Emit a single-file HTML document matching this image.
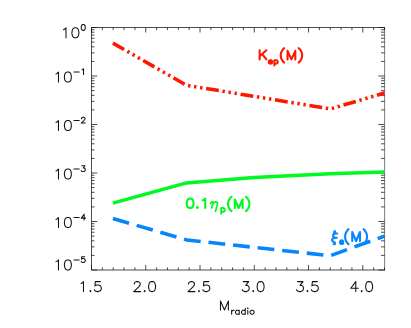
<!DOCTYPE html>
<html><head><meta charset="utf-8"><title>plot</title>
<style>
html,body{margin:0;padding:0;background:#fff;font-family:"Liberation Sans",sans-serif;}
svg{display:block}
</style></head><body>
<svg width="411" height="328" viewBox="0 0 411 328">
<rect width="411" height="328" fill="#ffffff"/>
<path d="M384.6 27.12 V270.38" fill="none" stroke="#111111" stroke-width="0.55"/>
<path d="M384.9 27.5 H91.5 M384.9 270 H91.5 V27.12 H91.5 M91.5 270 v-5 M91.5 27.5 v5 M102.35 270 v-2.6 M102.35 27.5 v2.6 M113.2 270 v-2.6 M113.2 27.5 v2.6 M124.06 270 v-2.6 M124.06 27.5 v2.6 M134.91 270 v-2.6 M134.91 27.5 v2.6 M145.76 270 v-5 M145.76 27.5 v5 M156.61 270 v-2.6 M156.61 27.5 v2.6 M167.46 270 v-2.6 M167.46 27.5 v2.6 M178.31 270 v-2.6 M178.31 27.5 v2.6 M189.17 270 v-2.6 M189.17 27.5 v2.6 M200.02 270 v-5 M200.02 27.5 v5 M210.87 270 v-2.6 M210.87 27.5 v2.6 M221.72 270 v-2.6 M221.72 27.5 v2.6 M232.57 270 v-2.6 M232.57 27.5 v2.6 M243.43 270 v-2.6 M243.43 27.5 v2.6 M254.28 270 v-5 M254.28 27.5 v5 M265.13 270 v-2.6 M265.13 27.5 v2.6 M275.98 270 v-2.6 M275.98 27.5 v2.6 M286.83 270 v-2.6 M286.83 27.5 v2.6 M297.69 270 v-2.6 M297.69 27.5 v2.6 M308.54 270 v-5 M308.54 27.5 v5 M319.39 270 v-2.6 M319.39 27.5 v2.6 M330.24 270 v-2.6 M330.24 27.5 v2.6 M341.09 270 v-2.6 M341.09 27.5 v2.6 M351.94 270 v-2.6 M351.94 27.5 v2.6 M362.8 270 v-5 M362.8 27.5 v5 M373.65 270 v-2.6 M373.65 27.5 v2.6 M384.5 270 v-2.6 M384.5 27.5 v2.6 M91.5 27.5 h5.8 M384.6 27.5 h-6.2 M91.5 61.4 h3 M384.6 61.4 h-3.6 M91.5 52.86 h3 M384.6 52.86 h-3.6 M91.5 46.8 h3 M384.6 46.8 h-3.6 M91.5 42.1 h3 M384.6 42.1 h-3.6 M91.5 38.26 h3 M384.6 38.26 h-3.6 M91.5 35.01 h3 M384.6 35.01 h-3.6 M91.5 32.2 h3 M384.6 32.2 h-3.6 M91.5 29.72 h3 M384.6 29.72 h-3.6 M91.5 76 h5.8 M384.6 76 h-6.2 M91.5 109.9 h3 M384.6 109.9 h-3.6 M91.5 101.36 h3 M384.6 101.36 h-3.6 M91.5 95.3 h3 M384.6 95.3 h-3.6 M91.5 90.6 h3 M384.6 90.6 h-3.6 M91.5 86.76 h3 M384.6 86.76 h-3.6 M91.5 83.51 h3 M384.6 83.51 h-3.6 M91.5 80.7 h3 M384.6 80.7 h-3.6 M91.5 78.22 h3 M384.6 78.22 h-3.6 M91.5 124.5 h5.8 M384.6 124.5 h-6.2 M91.5 158.4 h3 M384.6 158.4 h-3.6 M91.5 149.86 h3 M384.6 149.86 h-3.6 M91.5 143.8 h3 M384.6 143.8 h-3.6 M91.5 139.1 h3 M384.6 139.1 h-3.6 M91.5 135.26 h3 M384.6 135.26 h-3.6 M91.5 132.01 h3 M384.6 132.01 h-3.6 M91.5 129.2 h3 M384.6 129.2 h-3.6 M91.5 126.72 h3 M384.6 126.72 h-3.6 M91.5 173 h5.8 M384.6 173 h-6.2 M91.5 206.9 h3 M384.6 206.9 h-3.6 M91.5 198.36 h3 M384.6 198.36 h-3.6 M91.5 192.3 h3 M384.6 192.3 h-3.6 M91.5 187.6 h3 M384.6 187.6 h-3.6 M91.5 183.76 h3 M384.6 183.76 h-3.6 M91.5 180.51 h3 M384.6 180.51 h-3.6 M91.5 177.7 h3 M384.6 177.7 h-3.6 M91.5 175.22 h3 M384.6 175.22 h-3.6 M91.5 221.5 h5.8 M384.6 221.5 h-6.2 M91.5 255.4 h3 M384.6 255.4 h-3.6 M91.5 246.86 h3 M384.6 246.86 h-3.6 M91.5 240.8 h3 M384.6 240.8 h-3.6 M91.5 236.1 h3 M384.6 236.1 h-3.6 M91.5 232.26 h3 M384.6 232.26 h-3.6 M91.5 229.01 h3 M384.6 229.01 h-3.6 M91.5 226.2 h3 M384.6 226.2 h-3.6 M91.5 223.72 h3 M384.6 223.72 h-3.6 M91.5 270 h5.8 M384.6 270 h-6.2" fill="none" stroke="#111111" stroke-width="0.75"/>
<path d="M81 283.52 L81.98 283.05 L83.47 281.62 L83.47 291.6 M90.4 290.65 L89.91 291.12 L90.4 291.6 L90.9 291.12 L90.4 290.65 M100.3 281.62 L95.35 281.62 L94.86 285.9 L95.35 285.42 L96.84 284.95 L98.32 284.95 L99.81 285.42 L100.8 286.37 L101.29 287.8 L101.29 288.75 L100.8 290.17 L99.81 291.12 L98.32 291.6 L96.84 291.6 L95.35 291.12 L94.86 290.65 L94.36 289.7 M134.26 284 L134.26 283.52 L134.76 282.57 L135.25 282.1 L136.24 281.62 L138.22 281.62 L139.21 282.1 L139.71 282.57 L140.2 283.52 L140.2 284.47 L139.71 285.42 L138.72 286.85 L133.77 291.6 L140.7 291.6 M144.66 290.65 L144.16 291.12 L144.66 291.6 L145.15 291.12 L144.66 290.65 M151.59 281.62 L150.1 282.1 L149.11 283.52 L148.62 285.9 L148.62 287.32 L149.11 289.7 L150.1 291.12 L151.59 291.6 L152.58 291.6 L154.06 291.12 L155.05 289.7 L155.55 287.32 L155.55 285.9 L155.05 283.52 L154.06 282.1 L152.58 281.62 L151.59 281.62 M188.52 284 L188.52 283.52 L189.02 282.57 L189.51 282.1 L190.5 281.62 L192.48 281.62 L193.47 282.1 L193.97 282.57 L194.46 283.52 L194.46 284.47 L193.97 285.42 L192.98 286.85 L188.03 291.6 L194.96 291.6 M198.92 290.65 L198.42 291.12 L198.92 291.6 L199.41 291.12 L198.92 290.65 M208.82 281.62 L203.87 281.62 L203.37 285.9 L203.87 285.42 L205.35 284.95 L206.84 284.95 L208.32 285.42 L209.31 286.37 L209.81 287.8 L209.81 288.75 L209.31 290.17 L208.32 291.12 L206.84 291.6 L205.35 291.6 L203.87 291.12 L203.37 290.65 L202.88 289.7 M243.28 281.62 L248.72 281.62 L245.75 285.42 L247.24 285.42 L248.23 285.9 L248.72 286.37 L249.22 287.8 L249.22 288.75 L248.72 290.17 L247.73 291.12 L246.25 291.6 L244.76 291.6 L243.28 291.12 L242.78 290.65 L242.29 289.7 M253.18 290.65 L252.68 291.12 L253.18 291.6 L253.67 291.12 L253.18 290.65 M260.11 281.62 L258.62 282.1 L257.63 283.52 L257.14 285.9 L257.14 287.32 L257.63 289.7 L258.62 291.12 L260.11 291.6 L261.1 291.6 L262.58 291.12 L263.57 289.7 L264.07 287.32 L264.07 285.9 L263.57 283.52 L262.58 282.1 L261.1 281.62 L260.11 281.62 M297.54 281.62 L302.98 281.62 L300.01 285.42 L301.5 285.42 L302.49 285.9 L302.98 286.37 L303.48 287.8 L303.48 288.75 L302.98 290.17 L301.99 291.12 L300.51 291.6 L299.02 291.6 L297.54 291.12 L297.04 290.65 L296.55 289.7 M307.44 290.65 L306.94 291.12 L307.44 291.6 L307.93 291.12 L307.44 290.65 M317.34 281.62 L312.39 281.62 L311.89 285.9 L312.39 285.42 L313.87 284.95 L315.36 284.95 L316.84 285.42 L317.83 286.37 L318.33 287.8 L318.33 288.75 L317.83 290.17 L316.84 291.12 L315.36 291.6 L313.87 291.6 L312.39 291.12 L311.89 290.65 L311.4 289.7 M355.76 281.62 L350.81 288.27 L358.23 288.27 M355.76 281.62 L355.76 291.6 M361.7 290.65 L361.2 291.12 L361.7 291.6 L362.19 291.12 L361.7 290.65 M368.63 281.62 L367.14 282.1 L366.15 283.52 L365.66 285.9 L365.66 287.32 L366.15 289.7 L367.14 291.12 L368.63 291.6 L369.62 291.6 L371.1 291.12 L372.09 289.7 L372.59 287.32 L372.59 285.9 L372.09 283.52 L371.1 282.1 L369.62 281.62 L368.63 281.62 M63.53 29.72 L64.52 29.25 L66 27.82 L66 37.8 M74.91 27.82 L73.43 28.3 L72.44 29.72 L71.94 32.1 L71.94 33.52 L72.44 35.9 L73.43 37.32 L74.91 37.8 L75.9 37.8 L77.39 37.32 L78.38 35.9 L78.87 33.52 L78.87 32.1 L78.38 29.72 L77.39 28.3 L75.9 27.82 L74.91 27.82 M82.96 24.55 L82.1 24.83 L81.52 25.66 L81.23 27.05 L81.23 27.88 L81.52 29.27 L82.1 30.11 L82.96 30.39 L83.54 30.39 L84.41 30.11 L84.99 29.27 L85.28 27.88 L85.28 27.05 L84.99 25.66 L84.41 24.83 L83.54 24.55 L82.96 24.55 M56 73.92 L56.99 73.45 L58.47 72.02 L58.47 82 M67.38 72.02 L65.9 72.5 L64.91 73.92 L64.41 76.3 L64.41 77.72 L64.91 80.1 L65.9 81.52 L67.38 82 L68.37 82 L69.86 81.52 L70.85 80.1 L71.34 77.72 L71.34 76.3 L70.85 73.92 L69.86 72.5 L68.37 72.02 L67.38 72.02 M73.99 72.08 L79.2 72.08 M82.1 69.86 L82.68 69.58 L83.54 68.75 L83.54 74.59 M56 122.42 L56.99 121.95 L58.47 120.52 L58.47 130.5 M67.38 120.52 L65.9 121 L64.91 122.42 L64.41 124.8 L64.41 126.22 L64.91 128.6 L65.9 130.02 L67.38 130.5 L68.37 130.5 L69.86 130.02 L70.85 128.6 L71.34 126.22 L71.34 124.8 L70.85 122.42 L69.86 121 L68.37 120.52 L67.38 120.52 M73.99 120.58 L79.2 120.58 M81.52 118.64 L81.52 118.36 L81.81 117.81 L82.1 117.53 L82.68 117.25 L83.83 117.25 L84.41 117.53 L84.7 117.81 L84.99 118.36 L84.99 118.92 L84.7 119.47 L84.12 120.31 L81.23 123.09 L85.28 123.09 M56 170.92 L56.99 170.45 L58.47 169.02 L58.47 179 M67.38 169.02 L65.9 169.5 L64.91 170.92 L64.41 173.3 L64.41 174.72 L64.91 177.1 L65.9 178.52 L67.38 179 L68.37 179 L69.86 178.52 L70.85 177.1 L71.34 174.72 L71.34 173.3 L70.85 170.92 L69.86 169.5 L68.37 169.02 L67.38 169.02 M73.99 169.08 L79.2 169.08 M81.81 165.75 L84.99 165.75 L83.25 167.97 L84.12 167.97 L84.7 168.25 L84.99 168.53 L85.28 169.36 L85.28 169.92 L84.99 170.75 L84.41 171.31 L83.54 171.59 L82.68 171.59 L81.81 171.31 L81.52 171.03 L81.23 170.47 M56 219.42 L56.99 218.95 L58.47 217.52 L58.47 227.5 M67.38 217.52 L65.9 218 L64.91 219.42 L64.41 221.8 L64.41 223.22 L64.91 225.6 L65.9 227.02 L67.38 227.5 L68.37 227.5 L69.86 227.02 L70.85 225.6 L71.34 223.22 L71.34 221.8 L70.85 219.42 L69.86 218 L68.37 217.52 L67.38 217.52 M73.99 217.58 L79.2 217.58 M84.12 214.25 L81.23 218.14 L85.57 218.14 M84.12 214.25 L84.12 220.09 M56 261.82 L56.99 261.35 L58.47 259.92 L58.47 269.9 M67.38 259.92 L65.9 260.4 L64.91 261.82 L64.41 264.2 L64.41 265.62 L64.91 268 L65.9 269.42 L67.38 269.9 L68.37 269.9 L69.86 269.42 L70.85 268 L71.34 265.62 L71.34 264.2 L70.85 261.82 L69.86 260.4 L68.37 259.92 L67.38 259.92 M73.99 259.98 L79.2 259.98 M84.7 256.65 L81.81 256.65 L81.52 259.15 L81.81 258.87 L82.68 258.59 L83.54 258.59 L84.41 258.87 L84.99 259.43 L85.28 260.26 L85.28 260.82 L84.99 261.65 L84.41 262.21 L83.54 262.49 L82.68 262.49 L81.81 262.21 L81.52 261.93 L81.23 261.37 M220.48 300.97 L220.48 310 M220.48 300.97 L224.44 310 M228.4 300.97 L224.44 310 M228.4 300.97 L228.4 310 M231.65 310.26 L231.65 314.18 M231.65 311.94 L231.96 311.1 L232.6 310.54 L233.23 310.26 L234.18 310.26 M239.25 310.26 L239.25 314.18 M239.25 311.1 L238.62 310.54 L237.98 310.26 L237.03 310.26 L236.4 310.54 L235.77 311.1 L235.45 311.94 L235.45 312.5 L235.77 313.34 L236.4 313.9 L237.03 314.18 L237.98 314.18 L238.62 313.9 L239.25 313.34 M245.27 308.29 L245.27 314.18 M245.27 311.1 L244.64 310.54 L244 310.26 L243.05 310.26 L242.42 310.54 L241.78 311.1 L241.47 311.94 L241.47 312.5 L241.78 313.34 L242.42 313.9 L243.05 314.18 L244 314.18 L244.64 313.9 L245.27 313.34 M247.49 308.29 L247.8 308.57 L248.12 308.29 L247.8 308.01 L247.49 308.29 M247.8 310.26 L247.8 314.18 M251.61 310.26 L250.97 310.54 L250.34 311.1 L250.02 311.94 L250.02 312.5 L250.34 313.34 L250.97 313.9 L251.61 314.18 L252.56 314.18 L253.19 313.9 L253.82 313.34 L254.14 312.5 L254.14 311.94 L253.82 311.1 L253.19 310.54 L252.56 310.26 L251.61 310.26" fill="none" stroke="#111111" stroke-width="1.05" stroke-linecap="round" stroke-linejoin="round"/>
<polyline points="112.9,43.1 186.5,85.3 330.5,108.9 384.5,93" fill="none" stroke="#ff1800" stroke-width="3.55" stroke-dasharray="12.9 3.7 2.4 3.7 2.4 3.7 2.4 3.7" stroke-linejoin="round"/>
<polyline points="112.9,203.1 186.5,182.9 254,177.6 330,173.7 384.5,171.9" fill="none" stroke="#00f920" stroke-width="3.55" stroke-linejoin="round"/>
<polyline points="112.9,218.5 187,240 330.2,255.7 384.5,236.1" fill="none" stroke="#0586ff" stroke-width="3.55" stroke-dasharray="16.8 7.9" stroke-linejoin="round"/>
<path d="M259.64 50.29 L259.64 59.4 M266.43 50.29 L259.64 56.26 M262.06 54.02 L266.43 59.4 M284.15 48.18 L283.18 49.08 L282.21 50.43 L281.24 52.22 L280.75 54.47 L280.75 56.26 L281.24 58.5 L282.21 60.3 L283.18 61.64 L284.15 62.54 M287.54 50.88 L287.54 59.4 M287.54 50.88 L291.42 59.4 M295.3 50.88 L291.42 59.4 M295.3 50.88 L295.3 59.4 M298.7 48.18 L299.67 49.08 L300.64 50.43 L301.61 52.22 L302.09 54.47 L302.09 56.26 L301.61 58.5 L300.64 60.3 L299.67 61.64 L298.7 62.54" fill="none" stroke="#ff1800" stroke-width="2.1" stroke-linecap="round" stroke-linejoin="round"/>
<path d="M268.59 61.7 L272.2 61.7 L272.2 61.2 L271.89 60.7 L271.59 60.45 L270.99 60.2 L270.09 60.2 L269.49 60.45 L268.89 60.95 L268.59 61.7 L268.59 62.2 L268.89 62.96 L269.49 63.46 L270.09 63.71 L270.99 63.71 L271.59 63.46 L272.2 62.96 M274.3 60.2 L274.3 65.46 M274.3 60.95 L274.9 60.45 L275.5 60.2 L276.41 60.2 L277.01 60.45 L277.61 60.95 L277.91 61.7 L277.91 62.2 L277.61 62.96 L277.01 63.46 L276.41 63.71 L275.5 63.71 L274.9 63.46 L274.3 62.96" fill="none" stroke="#ff1800" stroke-width="1.85" stroke-linecap="round" stroke-linejoin="round"/>
<path d="M189.67 198.58 L188.21 199.03 L187.24 200.37 L186.76 202.62 L186.76 203.96 L187.24 206.21 L188.21 207.55 L189.67 208 L190.64 208 L192.09 207.55 L193.06 206.21 L193.55 203.96 L193.55 202.62 L193.06 200.37 L192.09 199.03 L190.64 198.58 L189.67 198.58 M197.43 207.1 L196.94 207.55 L197.43 208 L197.91 207.55 L197.43 207.1 M202.76 200.37 L203.73 199.92 L205.19 198.58 L205.19 208 M231.43 196.78 L230.46 197.68 L229.49 199.03 L228.52 200.82 L228.03 203.07 L228.03 204.86 L228.52 207.1 L229.49 208.9 L230.46 210.24 L231.43 211.14 M234.82 199.48 L234.82 208 M234.82 199.48 L238.7 208 M242.58 199.48 L238.7 208 M242.58 199.48 L242.58 208 M245.98 196.78 L246.95 197.68 L247.92 199.03 L248.89 200.82 L249.37 203.07 L249.37 204.86 L248.89 207.1 L247.92 208.9 L246.95 210.24 L245.98 211.14" fill="none" stroke="#00f920" stroke-width="2.1" stroke-linecap="round" stroke-linejoin="round"/>
<path d="M221.18 207.92 L221.18 213.76 M221.18 208.75 L221.78 208.2 L222.38 207.92 L223.29 207.92 L223.89 208.2 L224.49 208.75 L224.79 209.59 L224.79 210.14 L224.49 210.98 L223.89 211.54 L223.29 211.81 L222.38 211.81 L221.78 211.54 L221.18 210.98" fill="none" stroke="#00f920" stroke-width="1.85" stroke-linecap="round" stroke-linejoin="round"/>
<path d="M210.61 203.51 L211.09 202.62 L211.82 201.94 L212.55 201.94 L213.03 202.39 L213.03 203.07 L212.55 204.86 L211.58 208 M212.55 204.86 L213.52 203.07 L214.49 202.17 L215.46 201.94 L216.43 201.94 L217.4 202.62 L217.4 203.96 L216.91 206.21 L215.46 211.14" fill="none" stroke="#00f920" stroke-width="1.7" stroke-linecap="round" stroke-linejoin="round"/>
<path d="M335.06 231.07 L334.34 231.54 L334.09 232.02 L334.09 232.49 L334.58 232.96 L335.55 233.43 L337.25 233.43 M335.55 233.43 L334.09 233.91 L333.37 234.38 L333.12 235.33 L333.12 236.27 L333.85 237.22 L335.06 237.69 L336.76 237.69 M335.06 237.69 L333.61 238.16 L332.64 238.64 L332.15 239.58 L332.15 240.53 L332.88 241.47 L334.58 242.42 L335.06 242.89 L335.06 243.84 L334.34 244.31 L333.61 244.31 M339.95 241.95 L343.15 241.95 L343.15 241.43 L342.88 240.91 L342.62 240.65 L342.08 240.39 L341.28 240.39 L340.75 240.65 L340.22 241.17 L339.95 241.95 L339.95 242.47 L340.22 243.25 L340.75 243.77 L341.28 244.03 L342.08 244.03 L342.62 243.77 L343.15 243.25 M348.53 229.18 L347.56 230.12 L346.59 231.54 L345.62 233.43 L345.14 235.8 L345.14 237.69 L345.62 240.05 L346.59 241.95 L347.56 243.36 L348.53 244.31 M352.23 232.02 L352.23 241 M352.23 232.02 L356.11 241 M359.99 232.02 L356.11 241 M359.99 232.02 L359.99 241 M363.58 229.18 L364.56 230.12 L365.52 231.54 L366.5 233.43 L366.98 235.8 L366.98 237.69 L366.5 240.05 L365.52 241.95 L364.56 243.36 L363.58 244.31" fill="none" stroke="#0586ff" stroke-width="2.1" stroke-linecap="round" stroke-linejoin="round"/>
</svg>
</body></html>
